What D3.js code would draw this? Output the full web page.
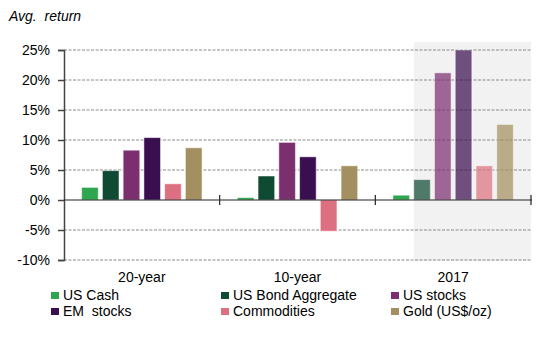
<!DOCTYPE html>
<html>
<head>
<meta charset="utf-8">
<script src="https://cdn.jsdelivr.net/npm/d3@7"></script>
<style>
  body { margin: 0; background: #fff; }
  svg { font-family: "Liberation Sans", Arial, sans-serif; }
</style>
</head>
<body>
<div id="chart"></div>
<script>
const groups = ["20-year", "10-year", "2017"];
const series = ["US Cash", "US Bond Aggregate", "US stocks", "EM  stocks", "Commodities", "Gold (US$/oz)"];
const colors = ["#2ea64f", "#0f4a33", "#7b2f6f", "#3a0f50", "#dc7080", "#a38f60"];
const values = [
    [2.1, 4.9, 8.3, 10.4, 2.7, 8.7],   // 20-year
    [0.4, 4.0, 9.6, 7.2, -5.2, 5.7],   // 10-year
    [0.8, 3.4, 21.2, 25.0, 5.7, 12.6]  // 2017
];
const yTicks = [-10, -5, 0, 5, 10, 15, 20, 25];

const width = 555, height = 363;
const plotLeft = 64, plotRight = 531, plotTop = 50, plotBottom = 260;

const svg = d3.select("#chart").append("svg")
    .attr("width", width).attr("height", height);

const x0 = d3.scaleBand().domain(groups).range([plotLeft, plotRight]);
const x1 = d3.scaleBand().domain(series).range([0, x0.bandwidth()])
    .paddingInner(0.2).paddingOuter(0.85);
const y = d3.scaleLinear().domain([-10, 25]).range([plotBottom, plotTop]);

// shaded 2017 area (starts at the bond bar)
const boxX = x0("2017") + x1(series[1]);
svg.append("rect")
    .attr("x", boxX).attr("y", 42)
    .attr("width", plotRight - boxX).attr("height", plotBottom - 42 + 1)
    .attr("fill", "#f2f2f2");

// gridlines
svg.selectAll(".grid").data(yTicks.filter(d => d !== 0)).enter()
    .append("line")
    .attr("x1", plotLeft).attr("x2", plotRight)
    .attr("y1", d => y(d)).attr("y2", d => y(d))
    .attr("stroke", "#8a8a8a").attr("stroke-width", 1)
    .attr("stroke-dasharray", "3,1.5");

// bars
const g = svg.selectAll(".grp").data(groups).enter()
    .append("g").attr("transform", d => `translate(${x0(d)},0)`);

g.selectAll("rect")
    .data((d, gi) => values[gi].map((v, i) => ({ v, i, gi })))
    .enter().append("rect")
    .attr("x", d => x1(series[d.i]))
    .attr("width", x1.bandwidth())
    .attr("y", d => y(Math.max(0, d.v)))
    .attr("height", d => Math.abs(y(d.v) - y(0)))
    .attr("fill", d => colors[d.i])
    .attr("fill-opacity", d => (d.gi === 2 && d.i > 0) ? 0.72 : 1)
    .attr("stroke", "rgba(255,255,255,0.5)")
    .attr("stroke-width", 1);

// y axis
const yAxis = d3.axisLeft(y).tickValues(yTicks).tickSize(6).tickPadding(8)
    .tickFormat(d => d + "%");
svg.append("g").attr("transform", `translate(${plotLeft},0)`).call(yAxis)
    .call(a => a.select(".domain").attr("stroke", "#444").attr("stroke-width", 1.5))
    .call(a => a.selectAll(".tick line").attr("stroke", "#444").attr("stroke-width", 1.5))
    .call(a => a.selectAll("text").style("font-size", "14px").attr("fill", "#000")
        .style("font-family", "'Liberation Sans', Arial, sans-serif"));

// zero line with group ticks
svg.append("line")
    .attr("x1", plotLeft).attr("x2", plotRight + 1)
    .attr("y1", y(0)).attr("y2", y(0))
    .attr("stroke", "#222").attr("stroke-width", 1.2);
svg.selectAll(".gtick").data(groups).enter()
    .append("line")
    .attr("x1", d => x0(d) + x0.bandwidth()).attr("x2", d => x0(d) + x0.bandwidth())
    .attr("y1", y(0) - 5).attr("y2", y(0) + 5)
    .attr("stroke", "#222").attr("stroke-width", 1.2);

// group labels
svg.selectAll(".glabel").data(groups).enter()
    .append("text")
    .attr("x", d => x0(d) + x0.bandwidth() / 2)
    .attr("y", 282)
    .attr("text-anchor", "middle")
    .style("font-size", "14px")
    .text(d => d);

// title
svg.append("text")
    .attr("x", 9).attr("y", 21)
    .style("font-size", "14px").style("font-style", "italic")
    .style("white-space", "pre")
    .text("Avg.  return");

// legend
const legend = svg.append("g");
series.forEach((s, i) => {
    const lx = 51 + (i % 3) * 170;
    const ly = 292 + Math.floor(i / 3) * 16;
    legend.append("rect").attr("x", lx).attr("y", ly).attr("width", 8).attr("height", 7)
        .attr("fill", colors[i]);
    legend.append("text").attr("x", lx + 12).attr("y", ly + 8)
        .style("font-size", "14px").style("white-space", "pre")
        .text(s);
});
</script>
</body>
</html>
